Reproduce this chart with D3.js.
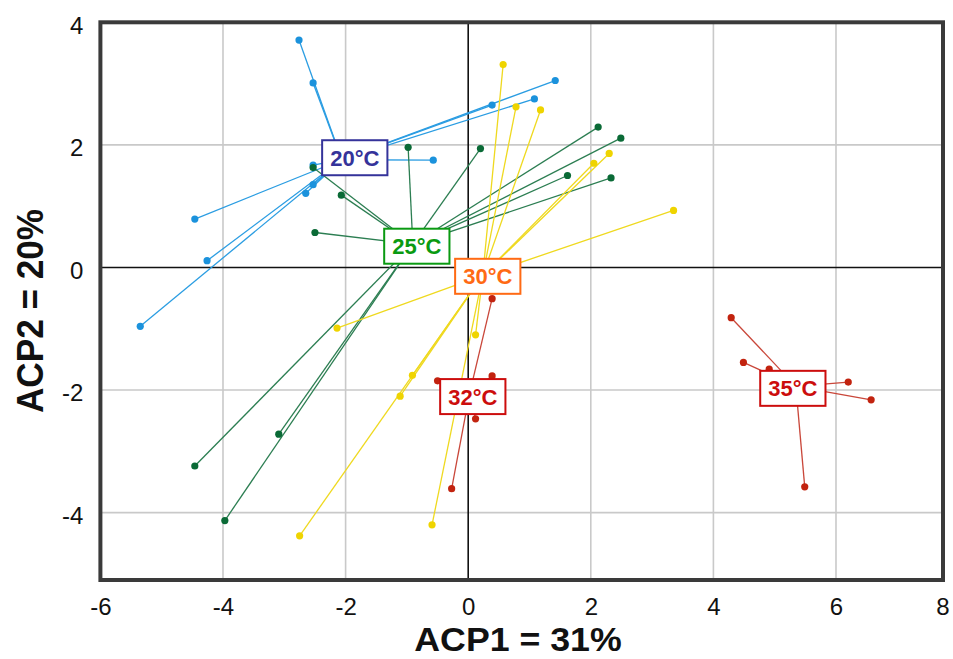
<!DOCTYPE html>
<html>
<head>
<meta charset="utf-8">
<script src="https://cdn.jsdelivr.net/npm/d3@7"></script>
<style>
  html, body { margin: 0; padding: 0; background: #fff; }
  svg { display: block; font-family: "Liberation Sans", Arial, sans-serif; }
</style>
</head>
<body>
<svg id="chart" width="953" height="659"></svg>
<script>
// PCA scores (ACP1, ACP2) of each sample, grouped by rearing temperature
const groupNames = ["20°C", "25°C", "30°C", "32°C", "35°C"];

const scores20 = [
  [-2.76, 3.71], [-2.53, 3.01], [1.42, 3.05], [0.39, 2.65], [1.08, 2.75], [-0.57, 1.75],
  [-2.53, 1.67], [-2.53, 1.35], [-2.65, 1.21], [-4.46, 0.79], [-4.26, 0.11], [-5.35, -0.96]
];
const scores25 = [
  [-0.98, 1.96], [0.20, 1.94], [-2.53, 1.63], [-2.07, 1.18], [-2.50, 0.57], [-3.09, -2.72],
  [-4.46, -3.24], [-3.97, -4.13], [2.12, 2.29], [2.49, 2.11], [1.62, 1.50], [2.33, 1.46]
];
const scores30 = [
  [0.57, 3.31], [0.78, 2.62], [1.18, 2.57], [2.30, 1.86], [2.05, 1.70], [3.35, 0.93],
  [-2.14, -0.99], [0.12, -1.10], [-0.91, -1.76], [-1.11, -2.10], [-0.59, -4.20], [-2.75, -4.38]
];
const scores32 = [
  [0.39, -0.51], [-0.50, -1.85], [0.39, -1.77], [0.12, -2.47], [-0.27, -3.61]
];
const scores35 = [
  [4.29, -0.82], [4.49, -1.55], [4.91, -1.66], [6.23, -1.87], [6.66, -2.16], [5.49, -3.58]
];

const xTicks = [-6, -4, -2, 0, 2, 4, 6, 8];
const yTicks = [-4, -2, 0, 2, 4];
const xTitle = "ACP1 = 31%";
const yTitle = "ACP2 = 20%";

// ---- drawing ----
const groups = [
  { name: groupNames[0], pts: scores20, line: "#2b9de2", dot: "#1b92dc", text: "#35339a", shift: [13, -2] },
  { name: groupNames[1], pts: scores25, line: "#2c7e52", dot: "#0a6a36", text: "#0a9a12", shift: [4, 2] },
  { name: groupNames[2], pts: scores30, line: "#efd91f", dot: "#efd400", text: "#ff6a14", shift: [5, 1] },
  { name: groupNames[3], pts: scores32, line: "#c9473a", dot: "#c2230f", text: "#cc0d0d", shift: [3, 4] },
  { name: groupNames[4], pts: scores35, line: "#c9473a", dot: "#c2230f", text: "#cc0d0d", shift: [-3, 2] }
];

const svg = d3.select("#chart");
const pLeft = 100.4, pRight = 943, pTop = 22.3, pBottom = 580;

const x = d3.scaleLinear().domain([-6, 6, 8]).range([pLeft, 836, pRight - 0.5]);
const y = d3.scaleLinear().domain([-5.1, 4]).range([pBottom, pTop]);

// background
svg.append("rect").attr("x", pLeft).attr("y", pTop)
  .attr("width", pRight - pLeft).attr("height", pBottom - pTop).attr("fill", "#fff");

// grid
const plot = svg.append("g");
plot.append("g").selectAll("line").data(xTicks.filter(t => t !== 0 && t > -6 && t < 8)).join("line")
  .attr("x1", d => x(d)).attr("x2", d => x(d)).attr("y1", pTop).attr("y2", pBottom)
  .attr("stroke", "#c9c9c9").attr("stroke-width", 1.6);
plot.append("g").selectAll("line").data(yTicks.filter(t => t !== 0 && t < 4)).join("line")
  .attr("y1", d => y(d)).attr("y2", d => y(d)).attr("x1", pLeft).attr("x2", pRight)
  .attr("stroke", "#c9c9c9").attr("stroke-width", 1.6);

// zero axes
plot.append("line").attr("x1", x(0)).attr("x2", x(0)).attr("y1", pTop).attr("y2", pBottom)
  .attr("stroke", "#111").attr("stroke-width", 1.6);
plot.append("line").attr("y1", y(0)).attr("y2", y(0)).attr("x1", pLeft).attr("x2", pRight)
  .attr("stroke", "#111").attr("stroke-width", 1.6);

// centroids
groups.forEach(g => {
  g.cx = d3.mean(g.pts, p => p[0]);
  g.cy = d3.mean(g.pts, p => p[1]);
});

// star segments
groups.forEach(g => {
  plot.append("g").selectAll("line").data(g.pts).join("line")
    .attr("x1", x(g.cx)).attr("y1", y(g.cy))
    .attr("x2", d => x(d[0])).attr("y2", d => y(d[1]))
    .attr("stroke", g.line).attr("stroke-width", 1.3);
});

// sample points
groups.forEach(g => {
  plot.append("g").selectAll("circle").data(g.pts).join("circle")
    .attr("cx", d => x(d[0])).attr("cy", d => y(d[1])).attr("r", 3.6)
    .attr("fill", g.dot);
});

// group labels at centroids
groups.forEach(g => {
  const lx = x(g.cx) + g.shift[0], ly = y(g.cy) + g.shift[1];
  const lab = svg.append("g").attr("transform", `translate(${lx},${ly})`);
  const box = lab.append("rect");
  const t = lab.append("text").text(g.name)
    .attr("text-anchor", "middle").attr("dy", "0.36em")
    .attr("font-size", 22).attr("font-weight", "bold").attr("fill", g.text);
  const w = t.node().getBBox().width + 16, h = 35;
  box.attr("x", -w / 2).attr("y", -h / 2).attr("width", w).attr("height", h)
    .attr("fill", "#fff").attr("stroke", g.text).attr("stroke-width", 2);
});

// frame
svg.append("rect").attr("x", pLeft).attr("y", pTop)
  .attr("width", pRight - pLeft).attr("height", pBottom - pTop)
  .attr("fill", "none").attr("stroke", "#3a3a3a").attr("stroke-width", 4);

// axes (plain hyphen for negative numbers)
const xAxis = svg.append("g").attr("transform", `translate(0,${pBottom})`)
  .call(d3.axisBottom(x).tickValues(xTicks).tickSize(0).tickPadding(18).tickFormat(d => String(d)));
xAxis.select(".domain").remove();
xAxis.selectAll("text").attr("font-size", 24).attr("fill", "#111")
  .style("font-family", "'Liberation Sans', Arial, sans-serif");

const yAxis = svg.append("g").attr("transform", `translate(${pLeft},0)`)
  .call(d3.axisLeft(y).tickValues(yTicks).tickSize(0).tickPadding(17).tickFormat(d => String(d)));
yAxis.select(".domain").remove();
yAxis.selectAll("text").attr("font-size", 24).attr("fill", "#111").attr("dy", "0.45em")
  .style("font-family", "'Liberation Sans', Arial, sans-serif");

// axis titles
svg.append("text").text(xTitle)
  .attr("transform", "translate(518,651) scale(1.05,1)").attr("text-anchor", "middle")
  .attr("font-size", 34).attr("font-weight", "bold").attr("fill", "#111");
svg.append("text").text(yTitle)
  .attr("transform", "translate(43,311) rotate(-90) scale(0.95,1)").attr("text-anchor", "middle")
  .attr("font-size", 37).attr("font-weight", "bold").attr("fill", "#111");
</script>
</body>
</html>
